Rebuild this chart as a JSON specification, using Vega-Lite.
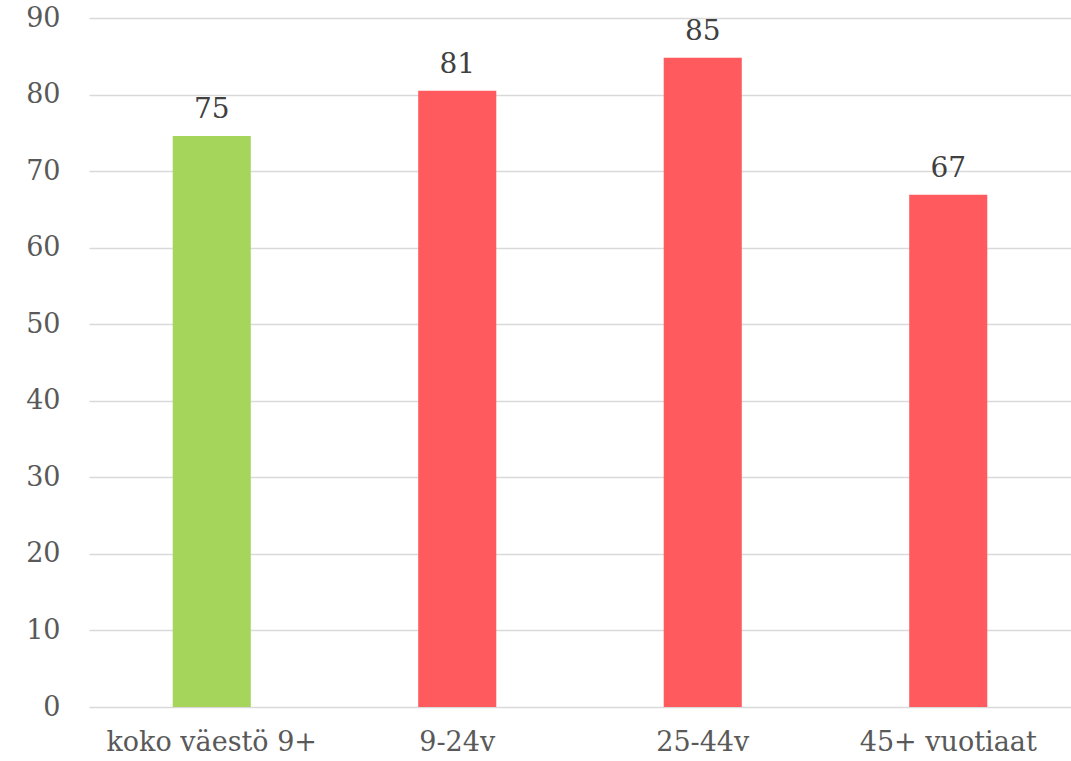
{
  "$schema": "https://vega.github.io/schema/vega-lite/v6.json",
  "autosize": {"type": "none"},
  "width": 982,
  "height": 689,
  "padding": {"left": 89, "top": 18, "right": 0, "bottom": 54},
  "background": "white",
  "config": {"view": {"stroke": null}, "font": "DejaVu Serif"},
  "data": {"values": [
    {"ryhma": "koko väestö 9+", "arvo": 74.6, "tyyppi": "koko"},
    {"ryhma": "9-24v", "arvo": 80.5, "tyyppi": "ika"},
    {"ryhma": "25-44v", "arvo": 84.8, "tyyppi": "ika"},
    {"ryhma": "45+ vuotiaat", "arvo": 66.9, "tyyppi": "ika"}
  ]},
  "encoding": {
    "x": {"field": "ryhma", "type": "nominal", "sort": null,
      "scale": {"paddingInner": 0.682, "paddingOuter": 0.341},
      "axis": {"title": null, "domain": false, "ticks": false, "labelAngle": 0, "labelLimit": 0,
        "labelFontSize": 27, "labelColor": "#595959", "labelPadding": 22, "labelFont": "DejaVu Serif"}},
    "y": {"field": "arvo", "type": "quantitative",
      "scale": {"domain": [0, 90], "nice": false},
      "axis": {"title": null, "domain": false, "ticks": false, "values": [0,10,20,30,40,50,60,70,80,90],
        "labelFontSize": 27, "labelColor": "#595959", "labelPadding": 29,
        "gridColor": "#d9d9d9", "gridWidth": 1.5, "labelFont": "DejaVu Serif"}}
  },
  "layer": [
    {"mark": {"type": "bar"},
     "encoding": {"color": {"field": "tyyppi", "type": "nominal",
        "scale": {"domain": ["koko", "ika"], "range": ["#A5D65B", "#FF5A5E"]}, "legend": null}}},
    {"mark": {"type": "text", "baseline": "bottom", "dy": -12, "fontSize": 28, "color": "#404040", "font": "DejaVu Serif"},
     "encoding": {"text": {"field": "arvo", "type": "quantitative", "format": ".0f"}}}
  ]
}
